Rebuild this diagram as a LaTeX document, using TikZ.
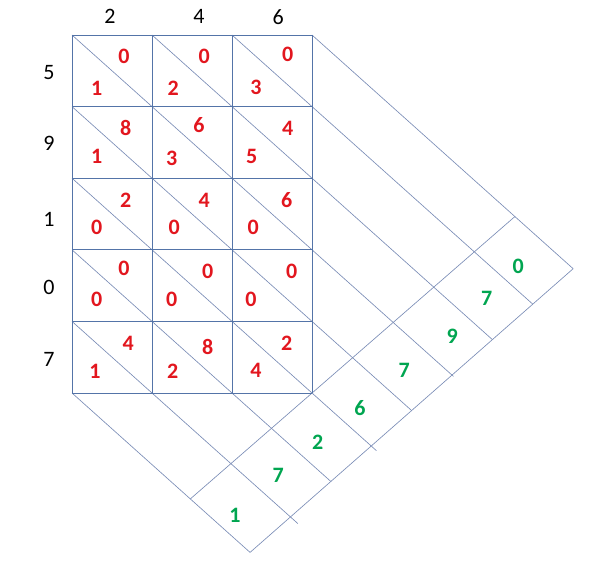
\documentclass[tikz,border=0pt]{standalone}
\usepackage{fontspec}
\setmainfont{Carlito}
\usetikzlibrary{calc}
\definecolor{gridblue}{RGB}{84,116,168}
\definecolor{diagblue}{RGB}{122,140,182}
\definecolor{dred}{RGB}{226,22,30}
\definecolor{dgreen}{RGB}{0,165,80}
\begin{document}
\begin{tikzpicture}[x=1pt,y=-1pt,
  gridline/.style={draw=gridblue,line width=0.9pt},
  diagline/.style={draw=diagblue,line width=0.65pt},
  lab/.style={font=\fontsize{22}{22}\selectfont,text=black,inner sep=0pt},
  rd/.style={font=\fontsize{22}{22}\selectfont\bfseries,text=dred,inner sep=0pt},
  gd/.style={font=\fontsize{22}{22}\selectfont\bfseries,text=dgreen,inner sep=0pt}]
\useasboundingbox (0,0) rectangle (591,564);
% outer and inner band lines
\coordinate (O1) at (575,267);
\coordinate (O2) at (247,555);
\coordinate (I1) at (312,393);
\coordinate (I2) at (412,306);
% diagonal family
\foreach \i/\x/\y/\ext in {0/72/393/0, 1/72/321.4/10, 2/72/249.8/0, 3/72/178.2/7, 4/72/106.6/0, 5/72/35/2, 6/152/35/0, 7/232/35/0, 8/312/35/0}{
  \coordinate (S\i) at (\x,\y);
  \coordinate (T\i) at (\x+80,\y+71.6);
  \coordinate (E\i) at (intersection cs:first line={(S\i)--(T\i)}, second line={(O1)--(O2)});
  \draw[diagline] (S\i) -- ($(E\i)!-\ext pt!(S\i)$);
}
\coordinate (IA) at (intersection cs:first line={(S0)--(T0)}, second line={(I1)--(I2)});
\coordinate (IB) at (intersection cs:first line={(S8)--(T8)}, second line={(I1)--(I2)});
\draw[diagline] (IA) -- (IB);
\draw[diagline] (E0) -- (E8);
% grid
\foreach \x in {72,152,232,312}{
  \draw[gridline] (\x,35) -- (\x,393);
}
\foreach \y in {35,106.6,178.2,249.8,321.4,393}{
  \draw[gridline] (72,\y) -- (312,\y);
}
% headers
\foreach \n/\x/\y/\t in {h1/110/16.7/2, h2/199/16.7/4, h3/278.3/16.7/6,
  v1/49/72.7/5, v2/49/143.3/9, v3/49/219.3/1, v4/49/287.3/0, v5/49/359.3/7}{
  \node[lab] (\n) at (\x,\y) {\t};
}
% red partial products
\foreach \n/\x/\y/\t in {
  a1/124/56/0, a2/96.7/88.3/1, a3/204.3/56/0, a4/173.3/88.3/2, a5/287.7/54.7/0, a6/256/87/3,
  b1/125.7/127.7/8, b2/96.7/156.7/1, b3/199/125/6, b4/171.7/158.3/3, b5/287.7/128.3/4, b6/251.7/156.7/5,
  c1/125.7/200/2, c2/96.7/227.7/0, c3/204.3/200/4, c4/174.3/227.7/0, c5/286.7/200/6, c6/253.3/227.7/0,
  d1/124/268.3/0, d2/96.7/299.3/0, d3/207.7/271.7/0, d4/171.7/299.3/0, d5/291.7/271.7/0, d6/251/299.3/0,
  e1/128.3/343.3/4, e2/95/371.7/1, e3/207.7/346.7/8, e4/172.7/371.7/2, e5/286.7/343.3/2, e6/256/370.7/4}{
  \node[rd] (\n) at (\x,\y) {\t};
}
% green result digits
\foreach \n/\x/\y/\t in {g1/518.3/266.7/0, g2/486.7/298.3/7, g3/452.3/336/9, g4/404.3/370/7,
  g5/360/408.3/6, g6/317.7/442.7/2, g7/278.3/475/7, g8/235/515/1}{
  \node[gd] (\n) at (\x,\y) {\t};
}
\end{tikzpicture}
\end{document}
